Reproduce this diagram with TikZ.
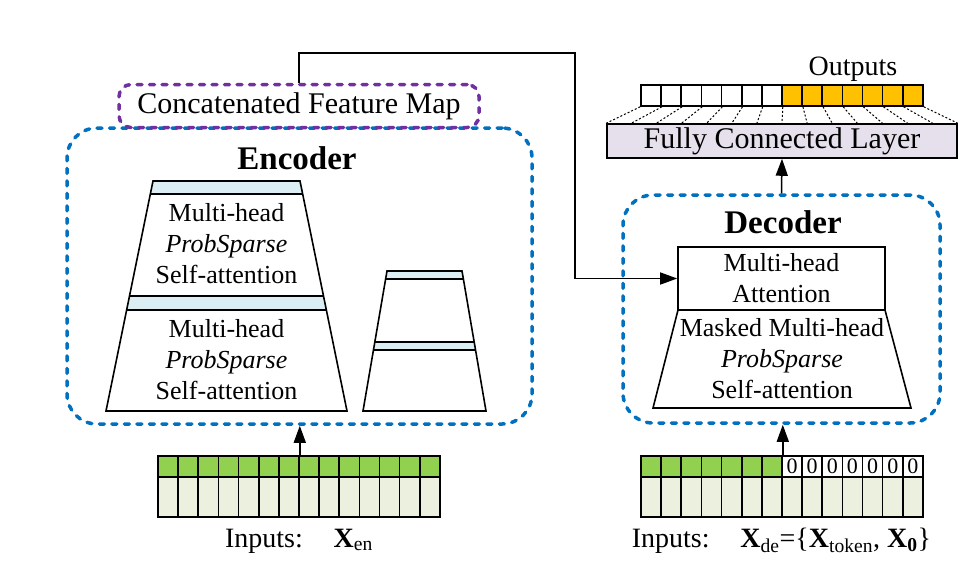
\documentclass[tikz,border=0pt]{standalone}
\usepackage{fontspec}
\setmainfont{Liberation Serif}
\usetikzlibrary{shapes.geometric, arrows.meta, positioning, calc}
\definecolor{encblue}{RGB}{0,112,192}
\definecolor{fmappurple}{RGB}{112,48,160}
\definecolor{stripblue}{RGB}{218,238,243}
\definecolor{fclav}{RGB}{229,224,236}
\definecolor{ingreen}{RGB}{146,208,80}
\definecolor{inlight}{RGB}{235,241,222}
\definecolor{outyellow}{RGB}{255,192,0}
\tikzstyle{group} = [rectangle, 
			draw = encblue, 
			line width = 3.5pt, 
			line cap = round, 
			dash pattern = on 5pt off 7.5pt, 
			rounded corners = 30pt]
\tikzstyle{fmap} = [rectangle, 
			draw = fmappurple, 
			line width = 3.5pt, 
			line cap = round, 
			dash pattern = on 5pt off 7.5pt, 
			rounded corners = 12pt, 
			font = \fontsize{30}{36}\selectfont]
\tikzstyle{title} = [font = \fontsize{33}{38}\selectfont\bfseries]
\tikzstyle{layertext} = [align = center, 
			inner sep = 0pt, 
			font = \fontsize{26}{31}\selectfont]
\tikzstyle{attbox} = [rectangle, 
			draw, 
			fill = white, 
			line width = 1.6pt, 
			align = center, 
			inner sep = 0pt, 
			font = \fontsize{26}{31}\selectfont]
\tikzstyle{fc} = [rectangle, 
			draw, 
			fill = fclav, 
			line width = 1.6pt, 
			font = \fontsize{30}{36}\selectfont]
\tikzstyle{cellbox} = [rectangle, 
			draw, 
			line width = 1.6pt, 
			inner sep = 0pt, 
			minimum width = 20.14pt, 
			font = \fontsize{22}{24}\selectfont]
\tikzstyle{lbl} = [inner sep = 0pt, 
			font = \fontsize{28}{34}\selectfont]
\tikzstyle{trap} = [draw, 
			line width = 1.6pt]
\tikzstyle{strip} = [fill = stripblue]
\tikzstyle{flow} = [line width = 1.5pt, 
			-{Triangle[length = 17pt, width = 12pt]}]
\tikzstyle{link} = [line width = 1.5pt]
\tikzstyle{dotline} = [line width = 1pt, 
			dash pattern = on 2pt off 2pt]

\begin{document}
\begin{tikzpicture}[x = 1pt, y = -1pt]
	\useasboundingbox (0,0) rectangle (960,571);
	% encoder
	\node [group, minimum width = 465pt, minimum height = 296pt] (encoder) at (299.5,276) {};
	\node [fmap, minimum width = 360pt, minimum height = 43pt] (concat) at (299,106) {Concatenated Feature Map};
	\node [title] (enctitle) at (297,158) {Encoder};
	\fill [strip] (153,181) -- (300,181) -- (302.7,194) -- (150.3,194) -- cycle;
	\fill [strip] (129.5,296) -- (323.5,296) -- (326.4,310) -- (126.6,310) -- cycle;
	\draw [trap] (153,181) -- (300,181) -- (347,411) -- (106,411) -- cycle;
	\draw [trap] (150.3,194) -- (302.7,194) (129.5,296) -- (323.5,296) (126.6,310) -- (326.4,310);
	\node [layertext] (encatt1) at (226.5,244) {Multi-head\\\textit{ProbSparse}\\Self-attention};
	\node [layertext] (encatt2) at (226.5,359.5) {Multi-head\\\textit{ProbSparse}\\Self-attention};
	\fill [strip] (387,271) -- (462,271) -- (463.4,279) -- (385.6,279) -- cycle;
	\fill [strip] (374.8,342) -- (474.2,342) -- (475.5,350) -- (373.5,350) -- cycle;
	\draw [trap] (387,271) -- (462,271) -- (486,411) -- (363,411) -- cycle;
	\draw [trap] (385.6,279) -- (463.4,279) (374.8,342) -- (474.2,342) (373.5,350) -- (475.5,350);
	% encoder inputs
	\foreach \i in {1,...,14} {
		\node [cellbox, fill = ingreen, minimum height = 21pt] (enctop\i) at (147.93+20.14*\i,466.5) {};
		\node [cellbox, fill = inlight, minimum height = 40pt] (encbot\i) at (147.93+20.14*\i,497) {};
	}
	\node [lbl, anchor = base] (enclbl) at (299,547) {Inputs:\hspace{1.1em}\textbf{X}\textsubscript{en}};
	\draw [flow] (enctop7.north east) -- (enctop7.north east |- encoder.south);
	% decoder
	\node [group, minimum width = 317pt, minimum height = 228pt] (decoder) at (781.5,309) {};
	\node [title] (dectitle) at (783,222.5) {Decoder};
	\draw [trap] (678,310) -- (885,310) -- (911,408) -- (653,408) -- cycle;
	\node [attbox, minimum width = 207pt, minimum height = 63pt] (attn) at (781.5,278.5) {Multi-head\\Attention};
	\node [layertext] (maskatt) at (782,358.5) {Masked Multi-head\\\textit{ProbSparse}\\Self-attention};
	% decoder inputs
	\foreach \i in {1,...,7} {
		\node [cellbox, fill = ingreen, minimum height = 21pt] (dectop\i) at (630.93+20.14*\i,466.5) {};
	}
	\foreach \i in {8,...,14} {
		\node [cellbox, fill = white, minimum height = 21pt] (dectop\i) at (630.93+20.14*\i,466.5) {0};
	}
	\foreach \i in {1,...,14} {
		\node [cellbox, fill = inlight, minimum height = 40pt] (decbot\i) at (630.93+20.14*\i,497) {};
	}
	\node [lbl, anchor = base] (declbl) at (781.5,547) {Inputs:\hspace{1.1em}\textbf{X}\textsubscript{de}=\{\textbf{X}\textsubscript{token}, \textbf{X}\textsubscript{\textbf{0}}\}};
	\draw [flow] (dectop7.north east) -- (dectop7.north east |- decoder.south);
	% outputs
	\node [fc, minimum width = 350pt, minimum height = 32pt] (fc) at (782,141) {Fully Connected Layer};
	\foreach \i in {1,...,7} {
		\node [cellbox, fill = white, minimum height = 21pt] (out\i) at (630.93+20.14*\i,95.5) {};
	}
	\foreach \i in {8,...,14} {
		\node [cellbox, fill = outyellow, minimum height = 21pt] (out\i) at (630.93+20.14*\i,95.5) {};
	}
	\node [lbl, anchor = base] (outlbl) at (853,75) {Outputs};
	\draw [dotline] (out1.south west) -- (fc.north west);
	\foreach \i in {1,...,14} {
		\draw [dotline] (out\i.south east) -- ($(fc.north west)!{\i/14}!(fc.north east)$);
	}
	\draw [flow] (decoder.north) -- (fc.south);
	% feature map to decoder
	\coordinate (turn) at (575,53);
	\draw [flow] (concat.north) |- (turn) |- (attn.west);
\end{tikzpicture}
\end{document}
